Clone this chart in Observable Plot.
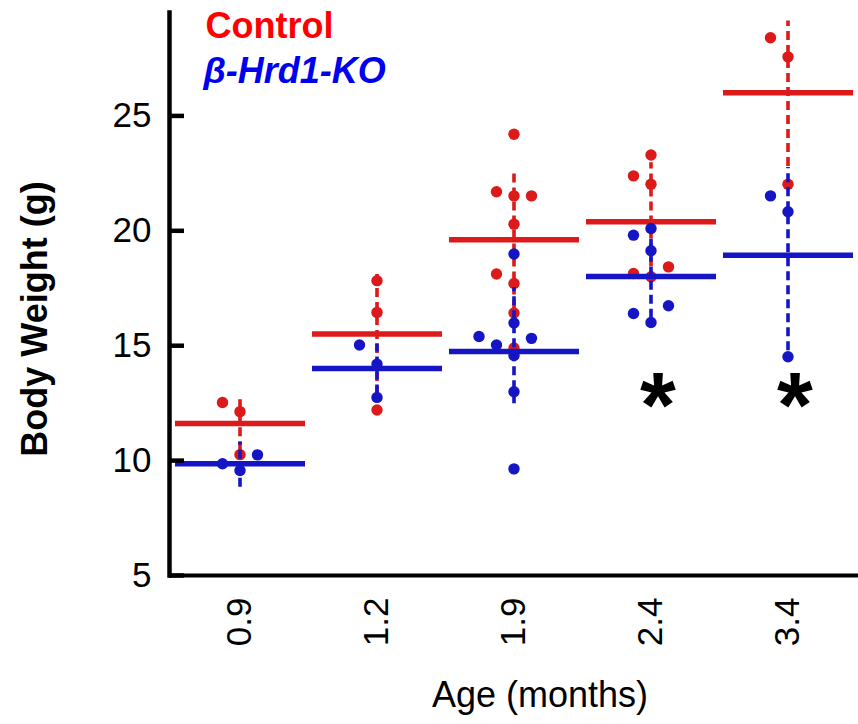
<!DOCTYPE html>
<html>
<head>
<meta charset="utf-8">
<script src="https://cdn.jsdelivr.net/npm/d3@7"></script>
<script src="https://cdn.jsdelivr.net/npm/@observablehq/plot@0.6"></script>
<style>
  html, body { margin: 0; padding: 0; background: #fff; }
  #chart { width: 858px; height: 724px; }
</style>
</head>
<body>
<div id="chart"></div>
<script>
// ---- data ----
const ages = ["0.9", "1.2", "1.9", "2.4", "3.4"];
const series = ["Control", "β-Hrd1-KO"];
const yTicks = [5, 10, 15, 20, 25];

// individual animals, grouped by age; lane = side-by-side slot of overlapping dots
const ctrlWeights = [
  [12.53, 12.13, 10.26],
  [17.83, 16.45, 12.2],
  [24.2, 21.7, 21.52, 21.52, 20.29, 18.12, 17.71, 16.42, 14.9],
  [23.3, 22.39, 22.03, 18.43, 18.14, 18.0],
  [28.4, 27.57, 22.03]
];
const ctrlLanes = [
  [-1, 0, 0],
  [0, 0, 0],
  [0, -1, 0, 1, 0, -1, 0, 0, 0],
  [0, -1, 0, 1, -1, 0],
  [-1, 0, 0]
];
const koWeights = [
  [9.86, 10.25, 9.57],
  [15.03, 14.2, 12.75],
  [18.99, 15.99, 15.4, 15.32, 15.03, 14.57, 13.0, 9.64],
  [20.1, 19.81, 19.13, 16.74, 16.4, 16.01],
  [21.52, 20.83, 14.52]
];
const koLanes = [
  [-1, 1, 0],
  [-1, 0, 0],
  [0, 0, -2, 1, -1, 0, 0, 0],
  [0, -1, 0, 1, -1, 0],
  [-1, 0, 0]
];

// group means and error-bar extents
const ctrlMean = [11.62, 15.51, 19.61, 20.39, 26.01];
const ctrlLo   = [10.43, 12.83, 16.6, 17.82, 22.8];
const ctrlHi   = [12.82, 18.19, 22.6, 22.96, 29.13];
const koMean   = [9.86, 14.01, 14.75, 18.01, 18.94];
const koLo     = [8.84, 12.9, 12.47, 16.2, 14.78];
const koHi     = [10.8, 15.09, 17.53, 20.1, 22.75];

// significance markers
const sigAges = ["2.4", "3.4"];
const sigLevel = 12.9;

// ---- build tables ----
const colors = {"Control": "#dc1a1a", "β-Hrd1-KO": "#1515c6"};
const legendColors = {"Control": "#ff0000", "β-Hrd1-KO": "#0000f0"};

function pointsOf(name, weights, lanes) {
  const out = [];
  weights.forEach((ws, i) => ws.forEach((w, j) => out.push({series: name, age: ages[i], weight: w, lane: lanes[i][j]})));
  return out;
}
function summaryOf(name, mean, lo, hi) {
  return ages.map((a, i) => ({series: name, age: a, mean: mean[i], lo: lo[i], hi: hi[i]}));
}
const ctrlPts = pointsOf(series[0], ctrlWeights, ctrlLanes);
const koPts = pointsOf(series[1], koWeights, koLanes);
const ctrlSum = summaryOf(series[0], ctrlMean, ctrlLo, ctrlHi);
const koSum = summaryOf(series[1], koMean, koLo, koHi);

const laneStep = 17.5;
const lanes = [-2, -1, 0, 1];

function groupMarks(pts, sum, color) {
  const m = [
    Plot.ruleX(sum, {x: "age", y1: "lo", y2: "hi", stroke: color, strokeWidth: 3.6, strokeDasharray: "9,5"}),
    Plot.tickY(sum, {x: "age", y: "mean", stroke: color, strokeWidth: 5.5, insetLeft: 4, insetRight: 3})
  ];
  for (const l of lanes) {
    m.push(Plot.dot(pts.filter(d => d.lane === l), {x: "age", y: "weight", r: 5.7, fill: color, dx: l * laneStep}));
  }
  return m;
}

const font = "'Liberation Sans', Arial, Helvetica, sans-serif";
const W = 858, ML = 169, MR = 0;
const tickLen = 15;

const chart = Plot.plot({
  width: W,
  height: 724,
  marginLeft: ML,
  marginRight: MR,
  marginTop: 12,
  marginBottom: 149,
  style: {fontFamily: font, background: "#fff", color: "#000"},
  x: {type: "band", domain: ages, padding: 0, label: null},
  y: {domain: [5, 29.5], label: null},
  marks: [
    ...groupMarks(ctrlPts, ctrlSum, colors[series[0]]),
    ...groupMarks(koPts, koSum, colors[series[1]]),
    // axes
    Plot.axisY(yTicks, {tickSize: 0, tickPadding: 18, fontSize: 35, label: null}),
    Plot.axisX({tickSize: 0, tickRotate: -90, tickPadding: 22, fontSize: 35, label: null}),
    Plot.ruleY([yTicks[0]], {stroke: "#000", strokeWidth: 4}),
    Plot.ruleY(yTicks, {stroke: "#000", strokeWidth: 4.5, insetRight: W - ML - MR - tickLen}),
    Plot.frame({anchor: "left", stroke: "#000", strokeWidth: 4.5}),
    // axis titles
    Plot.text(["Body Weight (g)"], {frameAnchor: "left", rotate: -90, dx: -134, dy: 25, fontSize: 36, fontWeight: "bold", textAnchor: "middle", lineAnchor: "middle", fill: "#000"}),
    Plot.text(["Age (months)"], {frameAnchor: "bottom", dx: 26, dy: 120, fontSize: 36, textAnchor: "middle", lineAnchor: "middle", fill: "#000"}),
    // legend
    Plot.text([series[0]], {frameAnchor: "top-left", dx: 36, dy: 0, fontSize: 36, fontWeight: "bold", textAnchor: "start", lineAnchor: "top", fill: legendColors[series[0]]}),
    Plot.text([series[1]], {frameAnchor: "top-left", dx: 34, dy: 45, fontSize: 36, fontWeight: "bold", fontStyle: "italic", textAnchor: "start", lineAnchor: "top", fill: legendColors[series[1]]}),
    // significance
    Plot.text(sigAges, {x: d => d, y: () => sigLevel, text: () => "*", fontSize: 92, fontWeight: "bold", dx: 7, dy: 14, textAnchor: "middle", lineAnchor: "middle", fill: "#000"})
  ]
});
document.getElementById("chart").appendChild(chart);
</script>
</body>
</html>
